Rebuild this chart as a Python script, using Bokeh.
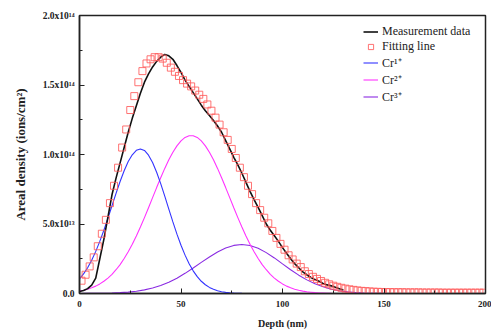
from bokeh.plotting import figure
from bokeh.models import SingleIntervalTicker, Legend, LegendItem, Range1d
from bokeh.embed import file_html
from bokeh.resources import INLINE

# ---- data (areal density in units of 1e14 ions/cm^2, depth in nm) ----
meas_y = [0.015, 0.022, 0.035, 0.06, 0.11, 0.25, 0.39, 0.55, 0.71, 0.83,
          0.94, 1.05, 1.16, 1.26, 1.35, 1.44, 1.52, 1.58, 1.63, 1.67,
          1.70, 1.72, 1.71, 1.685, 1.64, 1.59, 1.535, 1.49, 1.445, 1.40,
          1.355, 1.315, 1.28, 1.245, 1.205, 1.16, 1.10, 1.04, 0.98, 0.925,
          0.865, 0.80, 0.735, 0.675, 0.62, 0.56, 0.50, 0.455, 0.415, 0.375,
          0.33, 0.29, 0.25, 0.215, 0.185, 0.155, 0.135, 0.115, 0.10, 0.088,
          0.072, 0.062, 0.055, 0.045, 0.035, 0.025]
meas_x = list(range(0, 2 * len(meas_y), 2))

fit_y = [0.092, 0.135, 0.195, 0.26, 0.34, 0.43, 0.53, 0.65, 0.775, 0.905,
         1.05, 1.18, 1.32, 1.42, 1.52, 1.60, 1.655, 1.685, 1.70, 1.70,
         1.69, 1.66, 1.625, 1.595, 1.565, 1.535, 1.51, 1.49, 1.46, 1.43,
         1.40, 1.36, 1.315, 1.265, 1.215, 1.16, 1.105, 1.04, 0.975, 0.905,
         0.837, 0.775, 0.715, 0.65, 0.60, 0.545, 0.505, 0.45, 0.40, 0.357,
         0.315, 0.275, 0.245, 0.215, 0.19, 0.16, 0.14, 0.12, 0.105, 0.09,
         0.077, 0.066, 0.056, 0.048, 0.041, 0.035, 0.030, 0.026, 0.022, 0.019,
         0.017, 0.015, 0.013, 0.012, 0.011, 0.010, 0.010, 0.009, 0.009, 0.009,
         0.008, 0.008, 0.008, 0.008, 0.007, 0.007, 0.007, 0.007, 0.007, 0.006,
         0.006, 0.006, 0.006, 0.006, 0.006, 0.006, 0.006, 0.006, 0.006, 0.006]
fit_x = list(range(1, 2 * len(fit_y), 2))

cr1_y = [0.105, 0.141, 0.185, 0.239, 0.303, 0.375, 0.455, 0.541, 0.631, 0.720,
         0.806, 0.883, 0.949, 0.998, 1.030, 1.040, 1.029, 0.995, 0.942, 0.872,
         0.790, 0.701, 0.607, 0.515, 0.427, 0.347, 0.276, 0.214, 0.163, 0.121,
         0.088, 0.063, 0.044, 0.030, 0.020, 0.013, 0.008, 0.005, 0.003, 0.002,
         0.001]
cr1_x = list(range(0, 2 * len(cr1_y), 2))

cr2_y = [0.017, 0.023, 0.031, 0.041, 0.053, 0.069, 0.088, 0.111, 0.138, 0.171,
         0.208, 0.252, 0.300, 0.355, 0.414, 0.478, 0.546, 0.617, 0.690, 0.762,
         0.833, 0.900, 0.962, 1.016, 1.062, 1.098, 1.123, 1.135, 1.135, 1.123,
         1.098, 1.062, 1.016, 0.962, 0.900, 0.833, 0.762, 0.690, 0.617, 0.546,
         0.478, 0.414, 0.355, 0.300, 0.252, 0.208, 0.171, 0.138, 0.111, 0.088,
         0.069, 0.053, 0.041, 0.031, 0.023, 0.017, 0.012, 0.009, 0.006, 0.004,
         0.003, 0.002, 0.001]
cr2_x = list(range(0, 2 * len(cr2_y), 2))

cr3_y = [0.000, 0.001, 0.001, 0.002, 0.003, 0.006, 0.010, 0.016, 0.026, 0.039,
         0.057, 0.081, 0.110, 0.145, 0.183, 0.224, 0.263, 0.299, 0.327, 0.346,
         0.352, 0.345, 0.325, 0.294, 0.256, 0.213, 0.171, 0.132, 0.098, 0.070,
         0.048, 0.031, 0.020, 0.012, 0.007, 0.004, 0.002, 0.001, 0.000]
cr3_x = list(range(0, 4 * len(cr3_y), 4))

y_tick_values = [0.0, 0.5, 1.0, 1.5, 2.0]
y_tick_labels = ["0.0", "5.0x10\u00b9\u00b3", "1.0x10\u00b9\u2074", "1.5x10\u00b9\u2074", "2.0x10\u00b9\u2074"]
series_names = ["Measurement data", "Fitting line", "Cr\u00b9\u207a", "Cr\u00b2\u207a", "Cr\u00b3\u207a"]

FONT = "Liberation Serif"

p = figure(frame_width=406, frame_height=278,
           x_range=Range1d(0, 200), y_range=Range1d(0, 2.0),
           output_backend="svg", toolbar_location=None,
           min_border_left=79, min_border_right=6, min_border_top=15, min_border_bottom=38)
p.grid.visible = False
p.outline_line_color = "#222222"
p.outline_line_width = 1.5
p.background_fill_color = "white"
p.border_fill_color = "white"

r3 = p.line(cr3_x, cr3_y, line_color="#8a2be2", line_width=1.1)
r2 = p.line(cr2_x, cr2_y, line_color="#ff33ff", line_width=1.1)
r1 = p.line(cr1_x, cr1_y, line_color="#3333ff", line_width=1.1)
rm = p.line(meas_x, meas_y, line_color="#111111", line_width=1.6)
rf = p.scatter(fit_x, fit_y, marker="square", size=7, fill_color=None,
               line_color="#ff5a5a", line_alpha=0.85, line_width=1)

p.xaxis.ticker = SingleIntervalTicker(interval=50, num_minor_ticks=2)
p.yaxis.ticker = SingleIntervalTicker(interval=0.5, num_minor_ticks=2)
p.yaxis.major_label_overrides = dict(zip(y_tick_values, y_tick_labels))

for ax in (p.xaxis[0], p.yaxis[0]):
    ax.major_tick_in = 5
    ax.major_tick_out = 0
    ax.minor_tick_in = 3
    ax.minor_tick_out = 0
    ax.axis_line_width = 1.5
    ax.axis_line_color = "#222222"
    ax.major_tick_line_color = "#222222"
    ax.minor_tick_line_color = "#222222"
    ax.major_label_text_font = FONT
    ax.major_label_text_font_style = "bold"
    ax.major_label_text_font_size = "9px"
    ax.major_label_text_color = "#222222"
    ax.axis_label_text_font = FONT
    ax.axis_label_text_font_style = "bold"
    ax.axis_label_text_color = "#222222"

p.yaxis.major_label_text_font_size = "9.5px"
p.xaxis.axis_label = "Depth (nm)"
p.xaxis.axis_label_text_font_size = "10px"
p.xaxis.major_label_standoff = 7
p.xaxis.axis_label_standoff = 8
p.yaxis.axis_label = "Areal density (ions/cm\u00b2)"
p.yaxis.axis_label_text_font_size = "13px"
p.yaxis.major_label_standoff = 5
p.yaxis.axis_label_standoff = 12

legend = Legend(items=[
    LegendItem(label=series_names[0], renderers=[rm]),
    LegendItem(label=series_names[1], renderers=[rf]),
    LegendItem(label=series_names[2], renderers=[r1]),
    LegendItem(label=series_names[3], renderers=[r2]),
    LegendItem(label=series_names[4], renderers=[r3]),
], location=(284, 188))
legend.border_line_color = None
legend.background_fill_alpha = 0
legend.label_text_font = FONT
legend.label_text_font_size = "12px"
legend.label_text_color = "#222222"
legend.glyph_width = 15
legend.glyph_height = 13
legend.label_height = 13
legend.spacing = -3
legend.padding = 2
legend.margin = 0
legend.label_standoff = 4
p.add_layout(legend)

open("out.html", "w").write(file_html(p, INLINE))
